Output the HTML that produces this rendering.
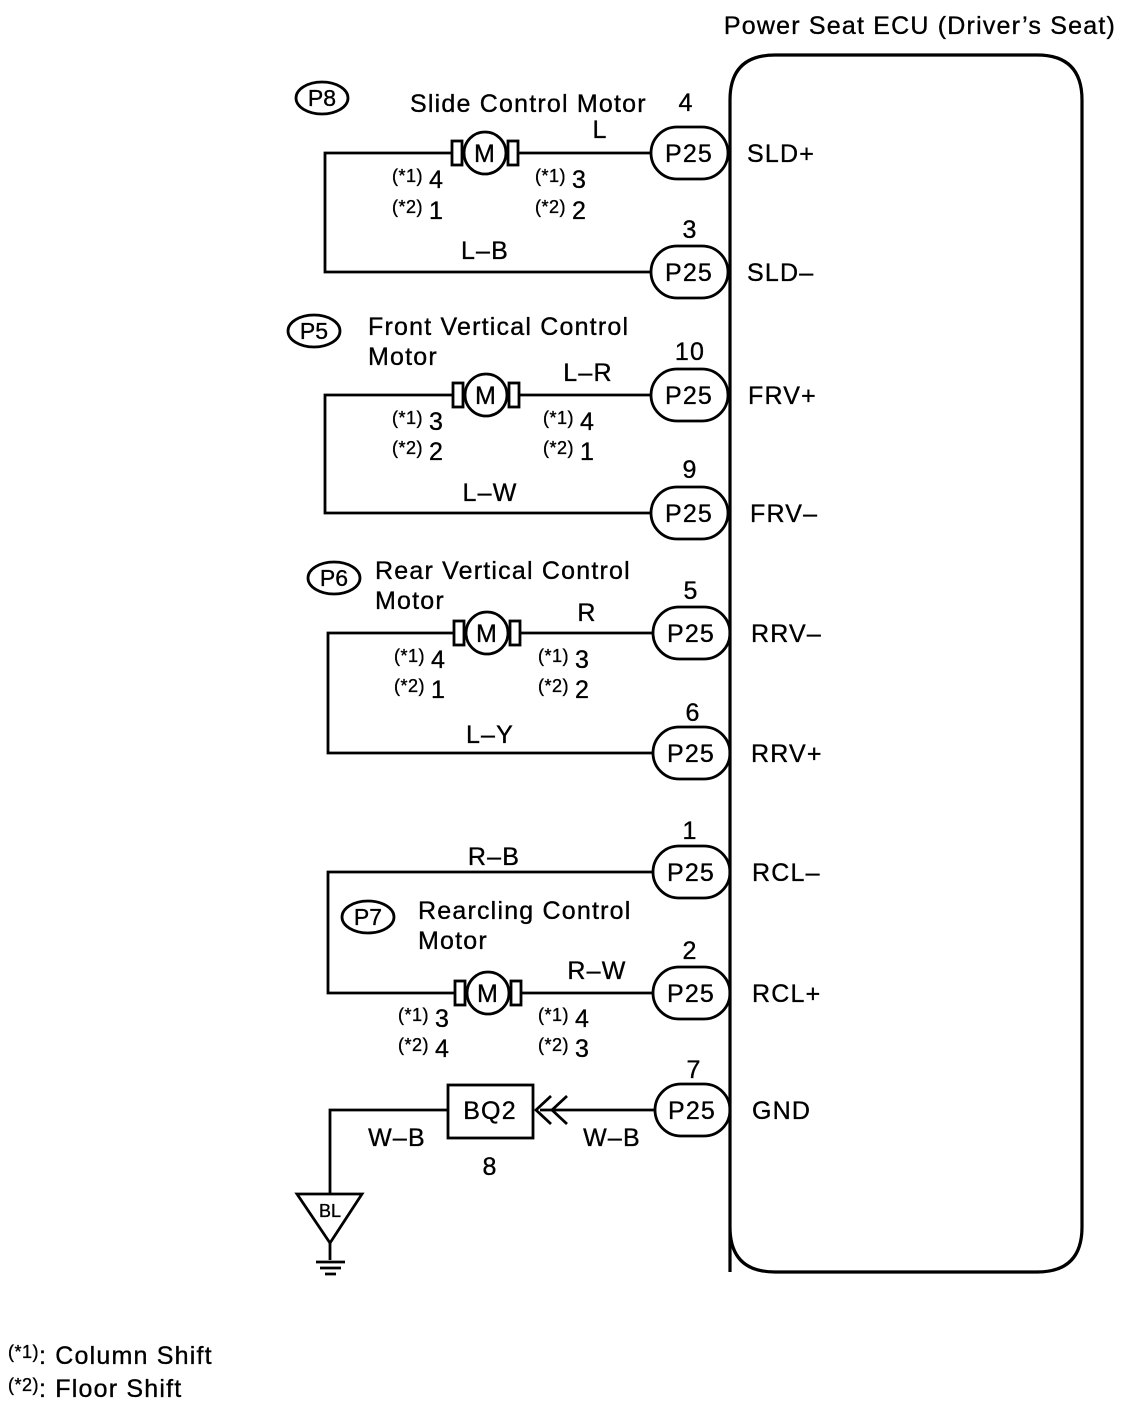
<!DOCTYPE html>
<html><head><meta charset="utf-8"><style>
html,body{margin:0;padding:0;background:#fff;}
svg{display:block;}
text{font-family:"Liberation Sans",Arial,sans-serif;fill:#000;stroke:#000;stroke-width:0.35;}
.t{font-size:25px;letter-spacing:1.2px;}
.p{font-size:23px;letter-spacing:0;}
.s{font-size:18px;letter-spacing:0.5px;}
.n{font-size:25px;}
</style></head><body>
<svg width="1136" height="1418" viewBox="0 0 1136 1418" xmlns="http://www.w3.org/2000/svg">
<g fill="none" stroke="#000" stroke-width="2.8">
<path d="M730 1272 L730 100 Q730 55 775 55 L1037 55 Q1082 55 1082 100 L1082 1227 Q1082 1272 1037 1272 L775 1272 Q730 1272 730 1227" stroke-width="3.2"/>
<rect x="651" y="127" width="77" height="52" rx="26"/>
<rect x="651" y="246" width="77" height="52" rx="26"/>
<rect x="651" y="369" width="77" height="52" rx="26"/>
<rect x="651" y="487" width="77" height="52" rx="26"/>
<rect x="653" y="607" width="77" height="52" rx="26"/>
<rect x="653" y="727" width="77" height="52" rx="26"/>
<rect x="653" y="846" width="77" height="52" rx="26"/>
<rect x="653" y="967" width="77" height="52" rx="26"/>
<rect x="655" y="1084" width="75" height="52" rx="26"/>
<ellipse cx="322" cy="98" rx="26" ry="16"/>
<ellipse cx="314" cy="331" rx="26" ry="16"/>
<ellipse cx="334" cy="578" rx="26" ry="16"/>
<ellipse cx="368" cy="917" rx="26" ry="16"/>
<path d="M651 153 L518 153 M452 153 L325 153 L325 272 L651 272"/>
<path d="M651 395 L519 395 M453 395 L325 395 L325 513 L651 513"/>
<path d="M653 633 L520 633 M454 633 L328 633 L328 753 L653 753"/>
<path d="M653 872 L328 872 L328 993 L455 993 M521 993 L653 993"/>
<path d="M655 1110 L540 1110 M448 1110 L330 1110 L330 1195"/>
<rect x="448" y="1085" width="85" height="53"/>
<path d="M551 1096 L536 1110 L551 1124 M567 1096 L552 1110 L567 1124"/>
<path d="M297 1194 L362 1194 L330 1243 Z"/>
<path d="M330 1243 L330 1260 M316 1262 L345 1262 M320 1268 L341 1268 M325 1274 L336 1274"/>
</g>
<g fill="none" stroke="#000" stroke-width="2.8">
<g transform="translate(485,153)"><rect x="-33" y="-12" width="10" height="24"/><rect x="23" y="-12" width="10" height="24"/><circle r="21" fill="#fff"/></g>
<g transform="translate(486,395)"><rect x="-33" y="-12" width="10" height="24"/><rect x="23" y="-12" width="10" height="24"/><circle r="21" fill="#fff"/></g>
<g transform="translate(487,633)"><rect x="-33" y="-12" width="10" height="24"/><rect x="23" y="-12" width="10" height="24"/><circle r="21" fill="#fff"/></g>
<g transform="translate(488,993)"><rect x="-33" y="-12" width="10" height="24"/><rect x="23" y="-12" width="10" height="24"/><circle r="21" fill="#fff"/></g>
</g>
<g class="t" text-anchor="middle">
<text x="485" y="162">M</text><text x="486" y="404">M</text><text x="487" y="642">M</text><text x="488" y="1002">M</text>
</g>
<text class="t" x="1116" y="34" text-anchor="end">Power Seat ECU (Driver’s Seat)</text>
<g class="t" text-anchor="middle">
<text x="689" y="162">P25</text><text x="689" y="281">P25</text><text x="689" y="404">P25</text><text x="689" y="522">P25</text>
<text x="691" y="642">P25</text><text x="691" y="762">P25</text><text x="691" y="881">P25</text><text x="691" y="1002">P25</text><text x="692" y="1119">P25</text>
<text x="686" y="111">4</text><text x="690" y="238">3</text><text x="690" y="360">10</text><text x="690" y="478">9</text>
<text x="691" y="599">5</text><text x="693" y="721">6</text><text x="690" y="839">1</text><text x="690" y="959">2</text><text x="694" y="1078">7</text>
<text x="600" y="138">L</text><text x="485" y="259">L–B</text><text x="588" y="381">L–R</text><text x="490" y="501">L–W</text>
<text x="587" y="621">R</text><text x="490" y="743">L–Y</text><text x="494" y="865">R–B</text><text x="597" y="979">R–W</text>
<text x="397" y="1146">W–B</text><text x="612" y="1146">W–B</text><text x="490" y="1175">8</text><text x="490" y="1119">BQ2</text>
</g>
<g class="p" text-anchor="middle">
<text x="322" y="106">P8</text><text x="314" y="339">P5</text><text x="334" y="586">P6</text><text x="368" y="925">P7</text>
</g>
<text x="330" y="1217" text-anchor="middle" style="font-size:18px">BL</text>
<g class="t">
<text x="747" y="162">SLD+</text><text x="747" y="281">SLD–</text><text x="748" y="404">FRV+</text><text x="750" y="522">FRV–</text>
<text x="751" y="642">RRV–</text><text x="751" y="762">RRV+</text><text x="752" y="881">RCL–</text><text x="752" y="1002">RCL+</text><text x="752" y="1119">GND</text>
<text x="410" y="112">Slide Control Motor</text>
<text x="368" y="335">Front Vertical Control</text><text x="368" y="365">Motor</text>
<text x="375" y="579">Rear Vertical Control</text><text x="375" y="609">Motor</text>
<text x="418" y="919">Rearcling Control</text><text x="418" y="949">Motor</text>
</g>
<g>
<text x="392" y="182"><tspan class="s">(*1)</tspan><tspan class="n" dx="6" dy="6">4</tspan></text>
<text x="392" y="213"><tspan class="s">(*2)</tspan><tspan class="n" dx="6" dy="6">1</tspan></text>
<text x="535" y="182"><tspan class="s">(*1)</tspan><tspan class="n" dx="6" dy="6">3</tspan></text>
<text x="535" y="213"><tspan class="s">(*2)</tspan><tspan class="n" dx="6" dy="6">2</tspan></text>
<text x="392" y="424"><tspan class="s">(*1)</tspan><tspan class="n" dx="6" dy="6">3</tspan></text>
<text x="392" y="454"><tspan class="s">(*2)</tspan><tspan class="n" dx="6" dy="6">2</tspan></text>
<text x="543" y="424"><tspan class="s">(*1)</tspan><tspan class="n" dx="6" dy="6">4</tspan></text>
<text x="543" y="454"><tspan class="s">(*2)</tspan><tspan class="n" dx="6" dy="6">1</tspan></text>
<text x="394" y="662"><tspan class="s">(*1)</tspan><tspan class="n" dx="6" dy="6">4</tspan></text>
<text x="394" y="692"><tspan class="s">(*2)</tspan><tspan class="n" dx="6" dy="6">1</tspan></text>
<text x="538" y="662"><tspan class="s">(*1)</tspan><tspan class="n" dx="6" dy="6">3</tspan></text>
<text x="538" y="692"><tspan class="s">(*2)</tspan><tspan class="n" dx="6" dy="6">2</tspan></text>
<text x="398" y="1021"><tspan class="s">(*1)</tspan><tspan class="n" dx="6" dy="6">3</tspan></text>
<text x="398" y="1051"><tspan class="s">(*2)</tspan><tspan class="n" dx="6" dy="6">4</tspan></text>
<text x="538" y="1021"><tspan class="s">(*1)</tspan><tspan class="n" dx="6" dy="6">4</tspan></text>
<text x="538" y="1051"><tspan class="s">(*2)</tspan><tspan class="n" dx="6" dy="6">3</tspan></text>
</g>
<text x="8" y="1358"><tspan class="s">(*1)</tspan><tspan class="t" dy="6">: Column Shift</tspan></text>
<text x="8" y="1391"><tspan class="s">(*2)</tspan><tspan class="t" dy="6">: Floor Shift</tspan></text>
</svg>
</body></html>
